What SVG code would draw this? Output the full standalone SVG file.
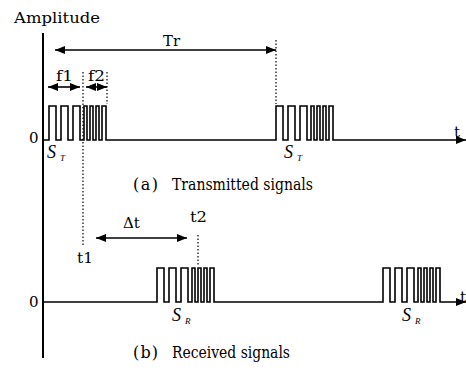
<svg xmlns="http://www.w3.org/2000/svg" width="466" height="370" viewBox="0 0 466 370">
<style>
text{font-family:"DejaVu Serif","Liberation Serif",serif;fill:#000}
.lbl{font-size:15px}
.cap{font-size:16px}
.it{font-family:"Liberation Serif",serif;font-style:italic;font-size:18px}
.sub{font-family:"Liberation Serif",serif;font-style:italic;font-size:9px}
.sig{fill:none;stroke:#000;stroke-width:1.6}
.ax{fill:none;stroke:#000;stroke-width:2}
.dot{fill:none;stroke:#000;stroke-width:1.2;stroke-dasharray:1.5 2}
.dim{fill:none;stroke:#000;stroke-width:1.6}
</style>
<defs>
<marker id="ah" viewBox="0 0 10 8" refX="10" refY="4" markerWidth="10" markerHeight="8" markerUnits="userSpaceOnUse" orient="auto-start-reverse">
<path d="M0,0 L10,4 L0,8 Z" fill="#000"/>
</marker>
</defs>
<g id="labels">
<text class="lbl" x="14" y="23" textLength="86" lengthAdjust="spacingAndGlyphs">Amplitude</text>
<text class="lbl" x="29" y="143">0</text>
<text class="lbl" x="29" y="307">0</text>
<text class="lbl" x="454" y="137">t</text>
<text class="lbl" x="460" y="302">t</text>
<text class="lbl" x="163" y="46" textLength="17" lengthAdjust="spacingAndGlyphs">Tr</text>
<text class="lbl" x="56" y="81" textLength="17" lengthAdjust="spacingAndGlyphs">f1</text>
<text class="lbl" x="88" y="81" textLength="17" lengthAdjust="spacingAndGlyphs">f2</text>
<text class="lbl" x="123" y="228" font-size="14">Δt</text>
<text class="lbl" x="77" y="263" textLength="16" lengthAdjust="spacingAndGlyphs">t1</text>
<text class="lbl" x="190" y="222" textLength="17" lengthAdjust="spacingAndGlyphs">t2</text>
<text class="cap" x="133" y="190" textLength="25" lengthAdjust="spacing">(a)</text>
<text class="cap" x="172" y="190" textLength="141" lengthAdjust="spacingAndGlyphs">Transmitted signals</text>
<text class="cap" x="133" y="358" textLength="25" lengthAdjust="spacing">(b)</text>
<text class="cap" x="172" y="358" textLength="118" lengthAdjust="spacingAndGlyphs">Received signals</text>
</g>
<g id="st1"><text class="it" x="47" y="158">S</text><text class="sub" x="60" y="161">T</text></g>
<g id="st2"><text class="it" x="284" y="158">S</text><text class="sub" x="297" y="161">T</text></g>
<g id="sr1"><text class="it" x="172" y="321">S</text><text class="sub" x="185" y="324">R</text></g>
<g id="sr2"><text class="it" x="402" y="321">S</text><text class="sub" x="415" y="324">R</text></g>
<g id="axis"><path class="ax" d="M43,33 V358"/></g>
<g id="connectors">
<path id="tx" class="sig" marker-end="url(#ah)" d="M43,140 H49 V106 H56 V140 H61 V106 H68 V140 H73 V106 H80 V140 H84 V106 H87 V140 H90 V106 H93 V140 H96 V106 H99 V140 H102 V106 H106 V140 H276 V106 H283 V140 H288 V106 H295 V140 H300 V106 H307 V140 H311 V106 H314 V140 H317 V106 H320 V140 H323 V106 H326 V140 H329 V106 H333 V140 H466"/>
<path id="rx" class="sig" marker-end="url(#ah)" d="M43,302 H157 V268 H164 V302 H169 V268 H176 V302 H181 V268 H188 V302 H192 V268 H195 V302 H198 V268 H201 V302 H204 V268 H207 V302 H210 V268 H214 V302 H383 V268 H390 V302 H395 V268 H402 V302 H407 V268 H414 V302 H418 V268 H421 V302 H424 V268 H427 V302 H430 V268 H433 V302 H436 V268 H440 V302 H466"/>
<path class="dim" marker-start="url(#ah)" marker-end="url(#ah)" d="M55,50 H276"/>
<path class="dim" marker-start="url(#ah)" marker-end="url(#ah)" d="M48,87 H80"/>
<path class="dim" marker-start="url(#ah)" marker-end="url(#ah)" d="M86,87 H107"/>
<path class="dim" marker-start="url(#ah)" marker-end="url(#ah)" d="M96,238 H187"/>
<path class="dot" d="M276,40 V104"/>
<path class="dot" d="M83,72 V246"/>
<path class="dot" d="M107,72 V104"/>
<path class="dot" d="M198,235 V266"/>
</g>
</svg>
